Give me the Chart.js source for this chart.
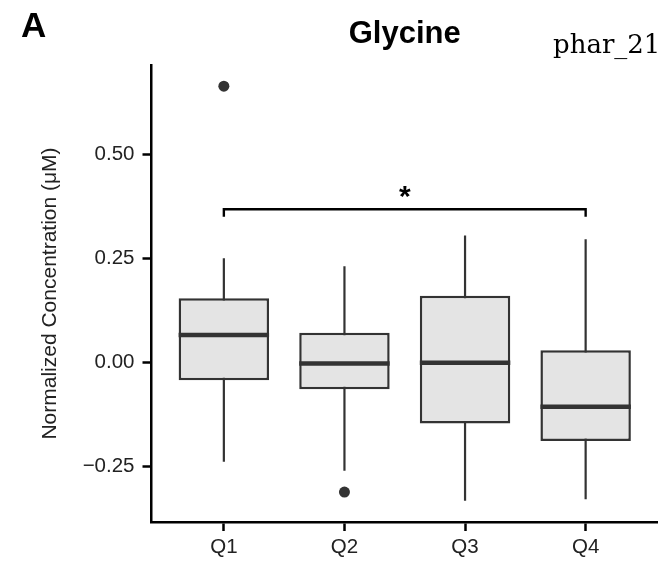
<!DOCTYPE html>
<html>
<head>
<meta charset="utf-8">
<script src="https://cdn.jsdelivr.net/npm/chart.js@4.4.1/dist/chart.umd.min.js"></script>
<style>
html, body { margin: 0; padding: 0; background: #fff; overflow: hidden; }
#wrap { width: 658px; height: 565px; }
</style>
</head>
<body>
<div id="wrap"><canvas id="myChart"></canvas></div>
<script>
// data
const quarters = ['Q1', 'Q2', 'Q3', 'Q4'];
const whiskerLow = [-0.238, -0.260, -0.332, -0.328];
const boxLow = [-0.042, -0.064, -0.146, -0.188];
const medians = [0.067, -0.002, 0.000, -0.106];
const boxHigh = [0.155, 0.072, 0.161, 0.030];
const whiskerHigh = [0.251, 0.232, 0.306, 0.297];
const outliers = [[0.665], [-0.311], [], []];
const yTicks = [-0.25, 0, 0.25, 0.5];
const yMin = -0.383;
const yMax = 0.716;
const bracketFrom = 0;
const bracketTo = 3;
const bracketY = 0.369;
const bracketLeg = 0.351;
const bracketLabel = '*';
const chartTitle = 'Glycine';
const panelLetter = 'A';
const tag = 'phar_21';

const boxWidth = 0.75;
const sans = '"Liberation Sans", Arial, sans-serif';

const idx = quarters.map((q, i) => i);
const outlierPoints = [];
outliers.forEach((vals, i) => vals.forEach(v => outlierPoints.push({ x: i, y: v })));

function fmt(v) {
    const s = Math.abs(v).toFixed(2);
    return v < 0 ? '\u2212' + s : s;
}

const textPlugin = {
    id: 'panelText',
    afterDraw(chart) {
        const { ctx, chartArea, scales } = chart;
        ctx.save();
        ctx.fillStyle = '#000';
        ctx.textBaseline = 'alphabetic';
        ctx.textAlign = 'left';
        ctx.font = 'bold 35px ' + sans;
        ctx.fillText(panelLetter, 21, 37);
        ctx.textAlign = 'center';
        ctx.font = 'bold 31px ' + sans;
        ctx.fillText(chartTitle, (chartArea.left + chartArea.right) / 2, 43);
        ctx.textAlign = 'left';
        ctx.font = '26px "DejaVu Serif", serif';
        ctx.fillText(tag, 553, 53);
        ctx.textAlign = 'center';
        ctx.font = 'bold 30px ' + sans;
        ctx.fillText(bracketLabel,
            scales.x.getPixelForValue((bracketFrom + bracketTo) / 2),
            scales.y.getPixelForValue(bracketY) - 3);
        ctx.restore();
    }
};

new Chart(document.getElementById('myChart'), {
    type: 'bar',
    data: {
        datasets: [
            {
                label: 'whiskers',
                data: idx.map(i => ({ x: i, y: [whiskerLow[i], whiskerHigh[i]] })),
                backgroundColor: '#333333',
                borderWidth: 0,
                grouped: false,
                maxBarThickness: 2.2,
                order: 3
            },
            {
                label: 'boxes',
                data: idx.map(i => ({ x: i, y: [boxLow[i], boxHigh[i]] })),
                backgroundColor: '#e4e4e4',
                borderColor: '#333333',
                borderWidth: 2.5,
                borderSkipped: false,
                grouped: false,
                barPercentage: boxWidth,
                categoryPercentage: 1,
                order: 2
            },
            {
                type: 'line',
                label: 'medians',
                data: idx.map(i => ({ x: i, y: medians[i] })),
                showLine: false,
                pointStyle: 'line',
                pointRadius: ctx => {
                    const xs = ctx.chart.scales.x;
                    return (xs.getPixelForValue(boxWidth) - xs.getPixelForValue(0)) / 2;
                },
                pointBorderWidth: 4.5,
                pointBorderColor: '#333333',
                order: 1
            },
            {
                type: 'line',
                label: 'outliers',
                data: outlierPoints,
                showLine: false,
                pointRadius: 5.5,
                pointBorderWidth: 0,
                pointBackgroundColor: '#333333',
                order: 1
            },
            {
                type: 'line',
                label: 'bracket',
                data: [
                    { x: bracketFrom, y: bracketLeg },
                    { x: bracketFrom, y: bracketY },
                    { x: bracketTo, y: bracketY },
                    { x: bracketTo, y: bracketLeg }
                ],
                borderColor: '#000',
                borderWidth: 2.4,
                pointRadius: 0,
                tension: 0,
                fill: false,
                order: 0
            }
        ]
    },
    options: {
        animation: false,
        responsive: true,
        maintainAspectRatio: false,
        layout: { autoPadding: false, padding: { top: 65, right: 0, bottom: 0, left: 0 } },
        scales: {
            x: {
                type: 'linear',
                min: -0.6,
                max: 3.6,
                offset: false,
                afterBuildTicks: s => { s.ticks = idx.map(v => ({ value: v })); },
                afterFit: s => { s.height = 43; s.paddingLeft = 0; s.paddingRight = 0; },
                ticks: {
                    callback: v => quarters[v],
                    color: '#222',
                    font: { family: sans, size: 20.5 },
                    padding: 4,
                    maxRotation: 0
                },
                grid: { offset: false, drawOnChartArea: false, tickLength: 9, tickWidth: 2.5, tickColor: '#000' },
                border: { color: '#000', width: 2.5 }
            },
            y: {
                min: yMin,
                max: yMax,
                afterBuildTicks: s => { s.ticks = yTicks.map(v => ({ value: v })); },
                afterFit: s => { s.width = 151.5; s.paddingTop = 0; s.paddingBottom = 0; },
                ticks: {
                    callback: v => fmt(v),
                    color: '#222',
                    font: { family: sans, size: 20.5 },
                    padding: 8
                },
                grid: { drawOnChartArea: false, tickLength: 9, tickWidth: 2.5, tickColor: '#000' },
                border: { color: '#000', width: 2.5 },
                title: {
                    display: true,
                    text: 'Normalized Concentration (\u03bcM)',
                    color: '#222',
                    font: { family: sans, size: 21 },
                    padding: { top: 38, bottom: 0 }
                }
            }
        },
        plugins: {
            legend: { display: false },
            tooltip: { enabled: false }
        }
    },
    plugins: [textPlugin]
});
</script>
</body>
</html>
